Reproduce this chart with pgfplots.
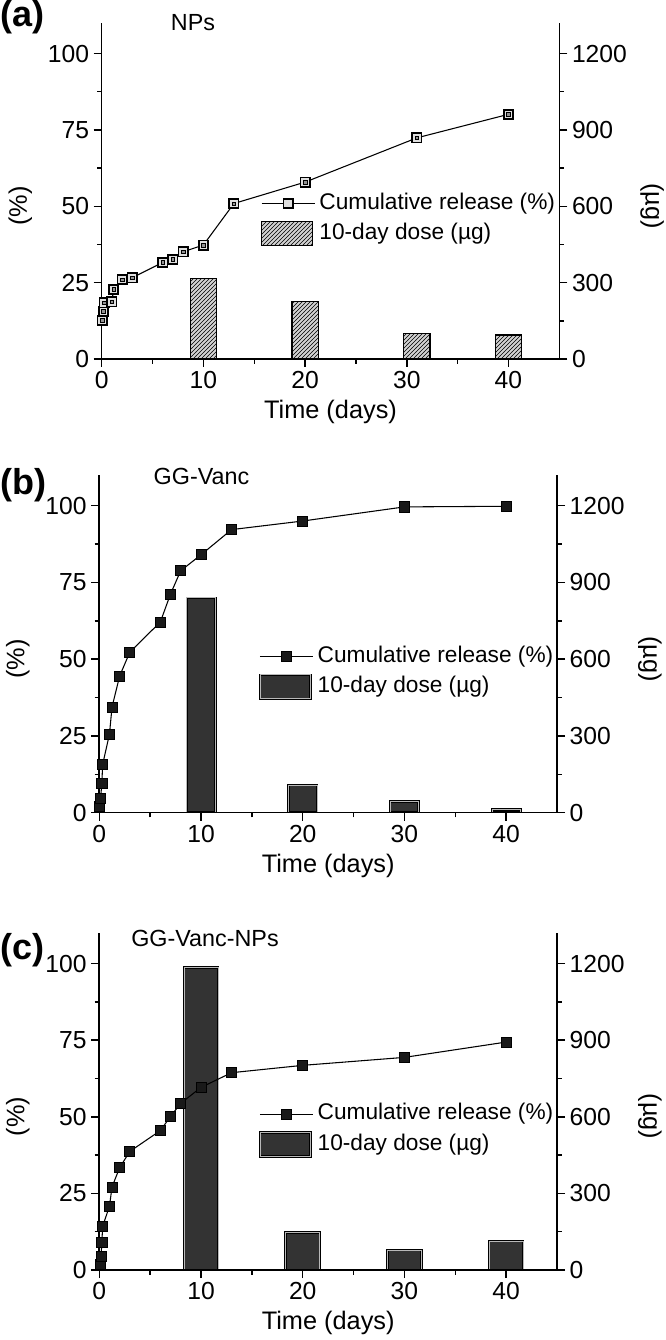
\documentclass[border=0pt]{standalone}
\usepackage{fontspec}
\setmainfont{Liberation Sans}
\usepackage{pgfplots}
\pgfplotsset{compat=1.18}
\usetikzlibrary{patterns}

\newcommand{\fs}[1]{\fontsize{#1}{#1}\selectfont}

\tikzset{
  darkbar/.style={draw=black, line width=0.7pt, double=gray!55, double distance=0.5pt, fill=black!80},
  hatchbar/.style={draw=black, line width=1pt, fill=gray!35, postaction={pattern=north east lines}},
}

\pgfplotsset{
  common/.style={
    scale only axis, anchor=south west,
    xmin=0, xmax=45,
    tick align=outside,
    major tick length=6pt, minor tick length=3.5pt,
    tick style={black, line width=1.1pt},
    axis line style={line width=1.2pt},
    tick label style={font=\fs{18.5}},
    /pgf/number format/assume math mode=true,
    /pgf/number format/1000 sep={},
  },
  leftax/.style={common,
    axis x line*=bottom, axis y line*=left,
    ymin=0, ymax=110,
    xtick={0,10,20,30,40}, minor xtick={5,15,25,35},
    ytick={0,25,50,75,100}, minor ytick={12.5,37.5,62.5,87.5},
    ylabel={(\%)},
    xlabel={Time (days)},
    every axis y label/.style={at={(axis description cs:-0.178,0.455)}, rotate=90, anchor=center, font=\fs{19}},
    every axis x label/.style={at={(axis description cs:0.5,-0.158)}, anchor=center, font=\fs{19}},
    legend cell align=left,
    legend style={at={(axis description cs:0.348,0.495)}, anchor=north west,
      draw=none, fill=none, inner sep=0pt, outer sep=0pt, font=\fs{17},
      row sep=4.6pt, column sep=3pt,
      nodes={inner sep=0pt, text height=12.6pt, text depth=3.8pt}},
  },
  rightax/.style={common,
    axis x line=none, axis y line*=right,
    ymin=0, ymax=1320,
    ytick={0,300,600,900,1200}, minor ytick={150,450,750,1050},
    ylabel={(µg)},
    every axis y label/.style={at={(axis description cs:1.203,0.455)}, rotate=-90, anchor=center, font=\fs{19}},
  },
  linelegend/.style={legend image code/.code={\draw[mark repeat=2, mark phase=2, ##1] plot coordinates {(0pt,0pt) (20pt,0pt) (40pt,0pt)};}},
  hatchlegend/.style={legend image code/.code={\draw[hatchbar] (0pt,-9pt) rectangle (38pt,9pt);}},
  darklegend/.style={legend image code/.code={\draw[darkbar] (0pt,-9pt) rectangle (38pt,9pt);}},
}

\pgfplotstableread{
x y
0.04 12.7
0.17 15.7
0.25 18.4
1 18.7
1.17 22.8
2 26.0
3 26.6
6 31.6
7 32.6
8 35.1
10 37.3
13 50.9
20 57.9
31 72.4
40 80.1
}\relA
\pgfplotstableread{
x y
10 317
20 226
31 101
40 94
}\barA
\pgfplotstableread{
x y
0.04 2.0
0.125 4.7
0.25 9.6
0.33 15.7
1 25.6
1.25 34.4
2 44.5
3 52.3
6 62.1
7 71.2
8 78.8
10 84.0
13 92.2
20 95.0
30 99.6
40 99.8
}\relB
\pgfplotstableread{
x y
10 840
20 108
30 43
40 13
}\barB
\pgfplotstableread{
x y
0.08 1.8
0.17 4.5
0.25 8.9
0.33 14.3
1 20.8
1.25 27.1
2 33.4
3 38.7
6 45.5
7 50.1
8 54.4
10 59.6
13 64.4
20 66.8
30 69.4
40 74.4
}\relC
\pgfplotstableread{
x y
10 1185
20 147
30 78
40 113
}\barC

\begin{document}
\begin{tikzpicture}[x=0.75pt,y=0.75pt]
\path[use as bounding box] (0,0) rectangle (666,1340);

% ---------------- (a)
\begin{axis}[rightax, at={(76.275pt,735.75pt)}, width=343.2pt, height=252pt]
\addplot[ybar, bar width=2.6, hatchbar] table {\barA};
\end{axis}
\begin{axis}[leftax, at={(76.275pt,735.75pt)}, width=343.2pt, height=252pt]
\addplot[black, line width=0.8pt, mark=square*, mark size=3.5pt,
  mark options={fill=gray!25, line width=1.3pt}, linelegend]
  table {\relA};
\addlegendentry{Cumulative release (\%)}
\addplot[only marks, mark=square*, mark size=1.3pt, mark options={fill=gray!85, draw=none}, forget plot] table {\relA};
\addlegendimage{hatchlegend}
\addlegendentry{10-day dose (µg)}
\end{axis}

% ---------------- (b)
\begin{axis}[rightax, at={(74.475pt,395.475pt)}, width=343.3pt, height=253.3pt]
\addplot[ybar, bar width=2.8, darkbar] table {\barB};
\end{axis}
\begin{axis}[leftax, at={(74.475pt,395.475pt)}, width=343.3pt, height=253.3pt]
\addplot[black, line width=0.8pt, mark=square*, mark size=3.8pt,
  mark options={fill=black!90, line width=0.6pt}, linelegend]
  table {\relB};
\addlegendentry{Cumulative release (\%)}
\addlegendimage{darklegend}
\addlegendentry{10-day dose (µg)}
\end{axis}

% ---------------- (c)
\begin{axis}[rightax, at={(74.475pt,52.5pt)}, width=343.3pt, height=252.75pt]
\addplot[ybar, bar width=3.35, darkbar] table {\barC};
\end{axis}
\begin{axis}[leftax, at={(74.475pt,52.5pt)}, width=343.3pt, height=252.75pt]
\addplot[black, line width=0.8pt, mark=square*, mark size=3.8pt,
  mark options={fill=black!90, line width=0.6pt}, linelegend]
  table {\relC};
\addlegendentry{Cumulative release (\%)}
\addlegendimage{darklegend}
\addlegendentry{10-day dose (µg)}
\end{axis}

% ---------------- panel letters and titles
\node[anchor=north west, inner sep=0pt, font=\bfseries\fs{27}] at (0,1340) {(a)};
\node[anchor=north west, inner sep=0pt, font=\bfseries\fs{27}] at (0,872) {(b)};
\node[anchor=north west, inner sep=0pt, font=\bfseries\fs{27}] at (0,407) {(c)};
\node[inner sep=0pt, font=\fs{17.5}] at (193,1317.5) {NPs};
\node[inner sep=0pt, font=\fs{17.5}] at (201.5,863.5) {GG-Vanc};
\node[inner sep=0pt, font=\fs{17.5}] at (205,401.5) {GG-Vanc-NPs};
\end{tikzpicture}
\end{document}
